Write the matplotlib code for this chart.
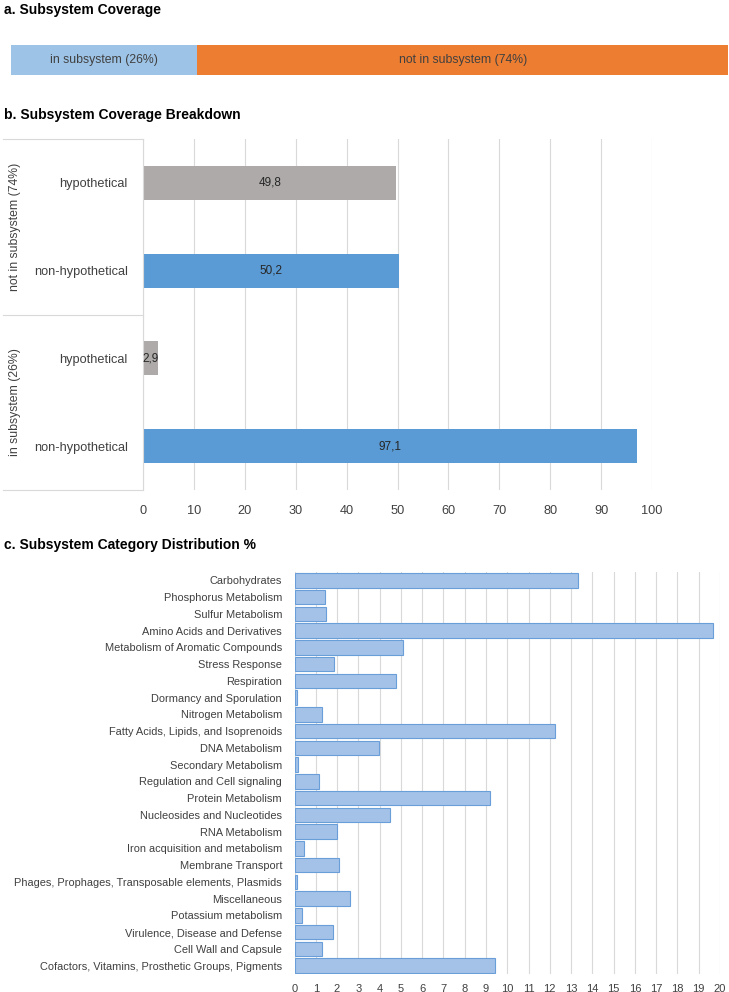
import matplotlib
matplotlib.use("Agg")
import matplotlib.pyplot as plt

plt.rcParams['font.family'] = ['Liberation Sans', 'DejaVu Sans']

# a. coverage
coverage_labels = ["in subsystem (26%)", "not in subsystem (74%)"]
coverage_values = [26, 74]
coverage_colors = ["#9DC3E6", "#ED7D31"]

# b. breakdown (bottom to top)
groups = ["in subsystem (26%)", "not in subsystem (74%)"]
breakdown_labels = ["non-hypothetical", "hypothetical", "non-hypothetical", "hypothetical"]
breakdown_values = [97.1, 2.9, 50.2, 49.8]
breakdown_colors = ["#5B9BD5", "#AEAAAA", "#5B9BD5", "#AEAAAA"]

# c. category distribution (top to bottom)
categories = [
    "Carbohydrates", "Phosphorus Metabolism", "Sulfur Metabolism",
    "Amino Acids and Derivatives", "Metabolism of Aromatic Compounds",
    "Stress Response", "Respiration", "Dormancy and Sporulation",
    "Nitrogen Metabolism", "Fatty Acids, Lipids, and Isoprenoids",
    "DNA Metabolism", "Secondary Metabolism", "Regulation and Cell signaling",
    "Protein Metabolism", "Nucleosides and Nucleotides", "RNA Metabolism",
    "Iron acquisition and metabolism", "Membrane Transport",
    "Phages, Prophages, Transposable elements, Plasmids", "Miscellaneous",
    "Potassium metabolism", "Virulence, Disease and Defense",
    "Cell Wall and Capsule", "Cofactors, Vitamins, Prosthetic Groups, Pigments",
]
category_values = [13.33, 1.42, 1.5, 19.65, 5.08, 1.85, 4.79, 0.11, 1.31, 12.24,
                   3.97, 0.17, 1.13, 9.17, 4.51, 1.98, 0.44, 2.09, 0.11, 2.59,
                   0.35, 1.79, 1.27, 9.43]

W, H = 729, 992
fig = plt.figure(figsize=(W / 100, H / 100), dpi=100)


def px_axes(x0, y0, x1, y1):
    return fig.add_axes([x0 / W, 1 - y1 / H, (x1 - x0) / W, (y1 - y0) / H])


txt = "#404040"
grid = "#D9D9D9"

# titles
fig.text(4 / W, 1 - 10 / H, "a. Subsystem Coverage", fontsize=10, fontweight="bold", va="center")
fig.text(4 / W, 1 - 115 / H, "b. Subsystem Coverage Breakdown", fontsize=10, fontweight="bold", va="center")
fig.text(4 / W, 1 - 545 / H, "c. Subsystem Category Distribution %", fontsize=10, fontweight="bold", va="center")

# panel a
ax = px_axes(11, 45, 728, 75)
left = 0
for lab, v, c in zip(coverage_labels, coverage_values, coverage_colors):
    ax.barh(0, v, left=left, height=1, color=c)
    ax.text(left + v / 2, 0, lab, ha="center", va="center", fontsize=8.8, color=txt)
    left += v
ax.set_xlim(0, sum(coverage_values))
ax.set_ylim(-0.5, 0.5)
ax.axis("off")

# panel b
ax = px_axes(143, 139, 652, 490)
ypos = list(range(len(breakdown_values)))
ax.barh(ypos, breakdown_values, height=0.39, color=breakdown_colors, zorder=2)
for y, v in zip(ypos, breakdown_values):
    ax.text(v / 2, y, f"{v:.1f}".replace(".", ","), ha="center", va="center",
            fontsize=8.5, color="#262626", zorder=3)
ax.set_xlim(0, 100)
ax.set_ylim(-0.5, 3.5)
ax.set_xticks(range(0, 101, 10))
ax.set_yticks(ypos)
ax.set_yticklabels(breakdown_labels, fontsize=9.2, color=txt)
ax.tick_params(axis="both", length=0, labelcolor=txt)
ax.tick_params(axis="x", pad=11, labelsize=9.2)
ax.tick_params(axis="y", pad=11)
ax.xaxis.grid(True, color=grid, lw=0.8, zorder=0)
for s in ax.spines.values():
    s.set_visible(False)
# label box
bx = (3 - 143) / (652 - 143)
for yy in [0, 0.5, 1]:
    ax.plot([bx, 0], [yy, yy], transform=ax.transAxes, color=grid, lw=0.8, clip_on=False)
ax.plot([0, 0], [0, 1], transform=ax.transAxes, color=grid, lw=0.8, clip_on=False)
for i, g in enumerate(groups):
    ax.text((15 - 143) / (652 - 143), 0.25 + 0.5 * i, g, transform=ax.transAxes,
            rotation=90, ha="center", va="center", fontsize=8.8, color=txt)

# panel c
ax = px_axes(294.5, 572, 720, 974)
cy = list(range(len(categories)))
ax.barh(cy, category_values, height=0.88, color="#A4C2E8", edgecolor="#6A9ED8", lw=0.8, zorder=2)
ax.set_xlim(0, 20)
ax.set_ylim(len(categories) - 0.5, -0.5)
ax.set_xticks(range(0, 21))
ax.set_yticks(cy)
ax.set_yticklabels(categories, fontsize=7.9, color=txt)
ax.tick_params(axis="both", length=0, labelcolor=txt)
ax.tick_params(axis="x", pad=7, labelsize=8)
ax.tick_params(axis="y", pad=9)
ax.xaxis.grid(True, color=grid, lw=0.8, zorder=0)
for s in ax.spines.values():
    s.set_visible(False)

fig.savefig("out.png", dpi=100)
